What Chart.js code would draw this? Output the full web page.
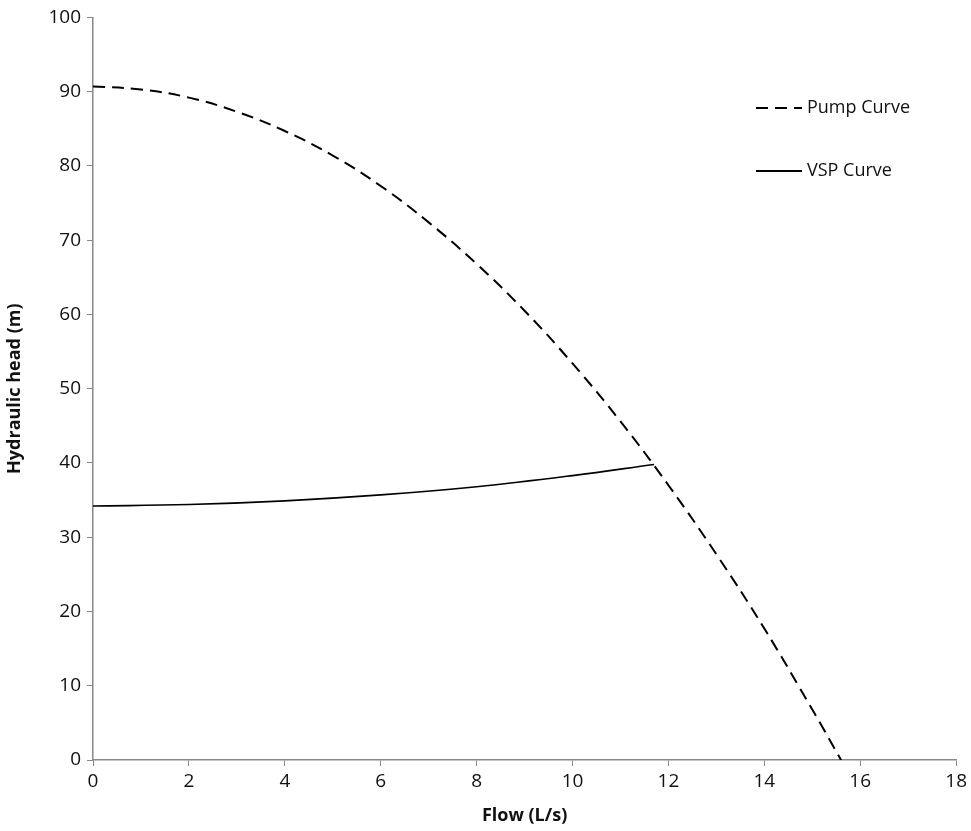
<!DOCTYPE html>
<html>
<head>
<meta charset="utf-8">
<script src="https://cdn.jsdelivr.net/npm/chart.js@4/dist/chart.umd.min.js"></script>
<style>
  html, body { margin: 0; padding: 0; background: #fff; }
  #wrap { width: 971px; height: 831px; }
</style>
</head>
<body>
<div id="wrap"><canvas id="pumpChart" width="971" height="831"></canvas></div>
<script>
// values
const pumpFlow = [0, 1, 2, 3, 4, 5, 6, 7, 8, 9, 10, 11, 12, 13, 14, 15, 15.6];
const pumpHead = [90.7, 90.3, 89.2, 87.3, 84.7, 81.4, 77.3, 72.4, 66.8, 60.5, 53.4, 45.6, 37.0, 27.7, 17.7, 6.8, 0];
const vspFlow = [0, 2, 4, 6, 8, 10, 11.7];
const vspHead = [34.2, 34.4, 34.9, 35.7, 36.8, 38.3, 39.8];
const xTicks = [0, 2, 4, 6, 8, 10, 12, 14, 16, 18];
const yTicks = [0, 10, 20, 30, 40, 50, 60, 70, 80, 90, 100];
const seriesNames = ['Pump Curve', 'VSP Curve'];

const FONT = "'Open Sans', 'Noto Sans', sans-serif";
const toPoints = (xs, ys) => xs.map((x, i) => ({ x: x, y: ys[i] }));

// legend drawn inside the plot, like the original
const insideLegend = {
    id: 'insideLegend',
    afterDraw(chart) {
        const ctx = chart.ctx;
        const rows = [
            { name: seriesNames[0], dash: [12, 7], y: 108 },
            { name: seriesNames[1], dash: [], y: 171 }
        ];
        ctx.save();
        ctx.font = '18px ' + FONT;
        ctx.fillStyle = '#111';
        ctx.textBaseline = 'middle';
        rows.forEach(r => {
            ctx.beginPath();
            ctx.setLineDash(r.dash);
            ctx.lineWidth = 1.8;
            ctx.strokeStyle = '#000';
            ctx.moveTo(756, r.y);
            ctx.lineTo(802, r.y);
            ctx.stroke();
            ctx.fillText(r.name, 807, r.y);
        });
        ctx.restore();
    }
};

const ctx = document.getElementById('pumpChart');
new Chart(ctx, {
    type: 'scatter',
    data: {
        datasets: [{
            label: seriesNames[0],
            data: toPoints(pumpFlow, pumpHead),
            showLine: true,
            borderColor: '#000',
            borderWidth: 2,
            borderDash: [12, 7],
            pointRadius: 0,
            tension: 0.4
        }, {
            label: seriesNames[1],
            data: toPoints(vspFlow, vspHead),
            showLine: true,
            borderColor: '#000',
            borderWidth: 1.6,
            pointRadius: 0,
            tension: 0.4
        }]
    },
    options: {
        responsive: false,
        animation: false,
        layout: { padding: { top: 15, right: 13, left: 0, bottom: 0 } },
        plugins: {
            legend: { display: false },
            tooltip: { enabled: false }
        },
        scales: {
            x: {
                type: 'linear',
                min: 0,
                max: 18,
                afterBuildTicks: s => { s.ticks = xTicks.map(v => ({ value: v })); },
                afterFit: s => { s.height = 71; },
                grid: {
                    drawOnChartArea: false,
                    drawTicks: true,
                    tickLength: 6,
                    color: '#888'
                },
                border: { color: '#888', width: 1.5 },
                ticks: {
                    font: { family: FONT, size: 19 },
                    color: '#111',
                    padding: 4
                },
                title: {
                    display: true,
                    text: 'Flow (L/s)',
                    font: { family: FONT, size: 18, weight: 'bold' },
                    color: '#111',
                    padding: { top: 6 }
                }
            },
            y: {
                type: 'linear',
                min: 0,
                max: 100,
                afterBuildTicks: s => { s.ticks = yTicks.map(v => ({ value: v })); },
                afterFit: s => { s.width = 93; },
                grid: {
                    drawOnChartArea: false,
                    drawTicks: true,
                    tickLength: 6,
                    color: '#888'
                },
                border: { color: '#888', width: 1.5 },
                ticks: {
                    font: { family: FONT, size: 19 },
                    color: '#111',
                    padding: 6
                },
                title: {
                    display: true,
                    text: 'Hydraulic head (m)',
                    font: { family: FONT, size: 18, weight: 'bold' },
                    color: '#111',
                    padding: { bottom: 2 }
                }
            }
        }
    },
    plugins: [insideLegend]
});
</script>
</body>
</html>
